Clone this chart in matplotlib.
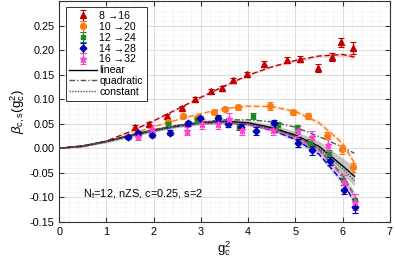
import numpy as np
import matplotlib
matplotlib.use('Agg')
import matplotlib.pyplot as plt
from matplotlib.ticker import MultipleLocator
from matplotlib.lines import Line2D

plt.rcParams['font.family'] = ['Liberation Sans', 'DejaVu Sans']
plt.rcParams['mathtext.fontset'] = 'custom'
plt.rcParams['mathtext.rm'] = 'Liberation Sans'
plt.rcParams['mathtext.it'] = 'Liberation Sans:italic'

# measured data points (g_c^2, beta, error)
x_8 = [1.61, 1.90, 2.28, 2.60, 2.87, 3.21, 3.44, 3.68, 3.97, 4.33, 4.82, 5.09, 5.47, 5.77, 5.96, 6.23]
y_8 = [0.043, 0.049, 0.065, 0.082, 0.100, 0.116, 0.122, 0.139, 0.151, 0.171, 0.180, 0.182, 0.163, 0.186, 0.216, 0.204]
e_8 = [0.004, 0.004, 0.004, 0.004, 0.005, 0.005, 0.005, 0.005, 0.005, 0.006, 0.006, 0.006, 0.008, 0.008, 0.009, 0.012]

x_10 = [2.30, 2.62, 2.92, 3.27, 3.51, 3.78, 4.46, 4.94, 5.26, 5.66, 5.98, 6.21]
y_10 = [0.053, 0.065, 0.061, 0.073, 0.080, 0.084, 0.086, 0.073, 0.065, 0.026, -0.002, -0.039]
e_10 = [0.004, 0.004, 0.004, 0.004, 0.005, 0.005, 0.008, 0.006, 0.006, 0.008, 0.009, 0.010]

x_12 = [1.67, 2.30, 2.92, 3.36, 3.80, 4.10, 4.63, 5.03, 5.30, 5.72, 6.00, 6.27]
y_12 = [0.027, 0.050, 0.057, 0.061, 0.043, 0.066, 0.047, 0.041, 0.010, -0.012, -0.065, -0.106]
e_12 = [0.004, 0.004, 0.005, 0.005, 0.006, 0.006, 0.007, 0.007, 0.008, 0.009, 0.010, 0.012]

x_14 = [1.46, 1.67, 1.96, 2.35, 2.73, 2.98, 3.36, 3.57, 3.85, 4.17, 4.54, 5.05, 5.35, 5.73, 6.02, 6.27]
y_14 = [0.022, 0.031, 0.028, 0.032, 0.051, 0.061, 0.061, 0.049, 0.043, 0.036, 0.051, 0.010, -0.004, -0.026, -0.084, -0.120]
e_14 = [0.004, 0.004, 0.005, 0.005, 0.005, 0.005, 0.006, 0.006, 0.006, 0.008, 0.007, 0.008, 0.009, 0.009, 0.010, 0.012]

x_16 = [1.67, 1.96, 2.70, 3.02, 3.36, 3.59, 3.87, 4.52, 5.05, 5.35, 5.70, 6.02, 6.27]
y_16 = [0.022, 0.040, 0.035, 0.049, 0.049, 0.060, 0.037, 0.038, 0.035, 0.024, 0.006, -0.069, -0.110]
e_16 = [0.006, 0.008, 0.008, 0.010, 0.010, 0.012, 0.010, 0.010, 0.010, 0.012, 0.012, 0.014, 0.016]

# fit curves read at these g_c^2 values
g_fit = [0, 0.5, 1, 1.5, 2, 2.5, 3, 3.5, 4, 4.5, 5, 5.5, 6, 6.25]
f_8 = [0, 0.004, 0.015, 0.034, 0.056, 0.080, 0.104, 0.127, 0.149, 0.166, 0.179, 0.188, 0.191, 0.186]
f_10 = [0, 0.004, 0.014, 0.028, 0.044, 0.058, 0.071, 0.081, 0.086, 0.085, 0.075, 0.052, 0.010, -0.030]
f_12 = [0, 0.004, 0.014, 0.026, 0.037, 0.046, 0.052, 0.054, 0.050, 0.040, 0.025, -0.002, -0.055, -0.095]
f_14 = [0, 0.004, 0.014, 0.026, 0.036, 0.045, 0.051, 0.053, 0.049, 0.037, 0.018, -0.012, -0.068, -0.110]
f_16 = [0, 0.004, 0.014, 0.026, 0.037, 0.046, 0.051, 0.053, 0.049, 0.038, 0.022, -0.005, -0.058, -0.098]
band_8 = [0, 0.001, 0.001, 0.002, 0.002, 0.002, 0.002, 0.002, 0.002, 0.002, 0.003, 0.003, 0.004, 0.005]
band_lat = [0, 0.001, 0.001, 0.002, 0.002, 0.002, 0.002, 0.002, 0.003, 0.003, 0.004, 0.005, 0.006, 0.008]

f_lin = [0, 0.005, 0.014, 0.026, 0.037, 0.046, 0.052, 0.055, 0.052, 0.042, 0.027, 0.004, -0.036, -0.057]
band_lin = [0, 0.002, 0.003, 0.004, 0.004, 0.004, 0.004, 0.005, 0.005, 0.006, 0.008, 0.011, 0.016, 0.020]
f_quad = [0, 0.005, 0.014, 0.026, 0.037, 0.046, 0.054, 0.058, 0.058, 0.054, 0.043, 0.024, 0.002, -0.010]
f_const = [0, 0.005, 0.014, 0.026, 0.037, 0.046, 0.052, 0.054, 0.050, 0.040, 0.024, 0.000, -0.042, -0.066]

labels = ['8 →16', '10 →20', '12 →24', '14 →28', '16 →32']
colors = ['#c00000', '#ff7a10', '#1f8a1f', '#0000b4', '#ff40d0']
markers = ['^', 'o', 's', 'D', '*']
msizes = [4.2, 4.2, 3.4, 3.4, 5]

fig = plt.figure(figsize=(3.95, 2.62), dpi=100)
ax = fig.add_axes([0.150, 0.153, 0.837, 0.843])

g = np.array(g_fit)
# continuum band + lines
ax.fill_between(g, np.array(f_lin) - band_lin, np.array(f_lin) + band_lin, color='#9a9a9a', alpha=0.55, lw=0, zorder=2)

fits = [f_8, f_10, f_12, f_14, f_16]
for i, f in enumerate(fits):
    b = band_8 if i == 0 else band_lat
    ax.fill_between(g, np.array(f) - b, np.array(f) + b, color=colors[i], alpha=0.15, lw=0, zorder=2)
    ax.plot(g, f, color=colors[i], ls=(0, (4, 2)), lw=1.0, zorder=3)

ax.plot(g, f_lin, color='black', lw=1.0, zorder=4)
ax.plot(g, f_quad, color='#555555', ls=(0, (4, 1.5, 1, 1.5)), lw=1.0, zorder=4)
ax.plot(g, f_const, color='#555555', ls=(0, (1, 1)), lw=1.0, zorder=4)

series = [(x_8, y_8, e_8), (x_10, y_10, e_10), (x_12, y_12, e_12), (x_14, y_14, e_14), (x_16, y_16, e_16)]
handles = []
for i, (xs, ys, es) in enumerate(series):
    h = ax.errorbar(xs, ys, yerr=es, fmt=markers[i], color=colors[i], ms=msizes[i],
                    elinewidth=0.8, capsize=2.5, capthick=0.8, zorder=5, label=labels[i])
    handles.append(h)

handles += [Line2D([], [], color='black', lw=1.0, label='linear'),
            Line2D([], [], color='#555555', ls=(0, (4, 1.5, 1, 1.5)), lw=1.0, label='quadratic'),
            Line2D([], [], color='#555555', ls=(0, (1, 1)), lw=1.0, label='constant')]

ax.set_xlim(0, 7)
ax.set_ylim(-0.15, 0.30)
ax.set_xticks(range(0, 8))
ax.set_yticks([-0.15, -0.10, -0.05, 0.00, 0.05, 0.10, 0.15, 0.20, 0.25])
ax.set_yticklabels(['-0.15', '-0.10', '-0.05', '0.00', '0.05', '0.10', '0.15', '0.20', '0.25'])
ax.xaxis.set_minor_locator(MultipleLocator(0.2))
ax.yaxis.set_minor_locator(MultipleLocator(0.01))
ax.grid(which='major', color='#dcdcdc', lw=0.7)
ax.grid(which='minor', color='#e4e4e4', lw=0.5, ls=(0, (1, 1.5)))
ax.set_axisbelow(True)
ax.tick_params(which='both', direction='in', top=True, right=True, labelsize=7.8, color='#333333')
ax.tick_params(which='minor', length=0)
for s in ax.spines.values():
    s.set_color('#333333')
    s.set_linewidth(0.8)

ax.set_xlabel('$\\mathregular{g_c^2}$', fontsize=9.5, labelpad=2)
ax.set_ylabel('$\\beta_{\\mathregular{c,s}}\\mathregular{(g_c^2)}$', fontsize=9.5, labelpad=2)

ax.text(0.5, -0.100, 'N$_\\mathregular{f}$=12, nZS, c=0.25, s=2', fontsize=7.9, va='baseline')

leg = ax.legend(handles=handles, loc='upper left', fontsize=7.6, frameon=True, fancybox=False,
                edgecolor='#333333', framealpha=1, handlelength=2.6, handletextpad=0.25,
                labelspacing=0.08, borderpad=0.35, borderaxespad=0.6)
leg.get_frame().set_linewidth(0.7)

fig.savefig('out.png', dpi=100)
